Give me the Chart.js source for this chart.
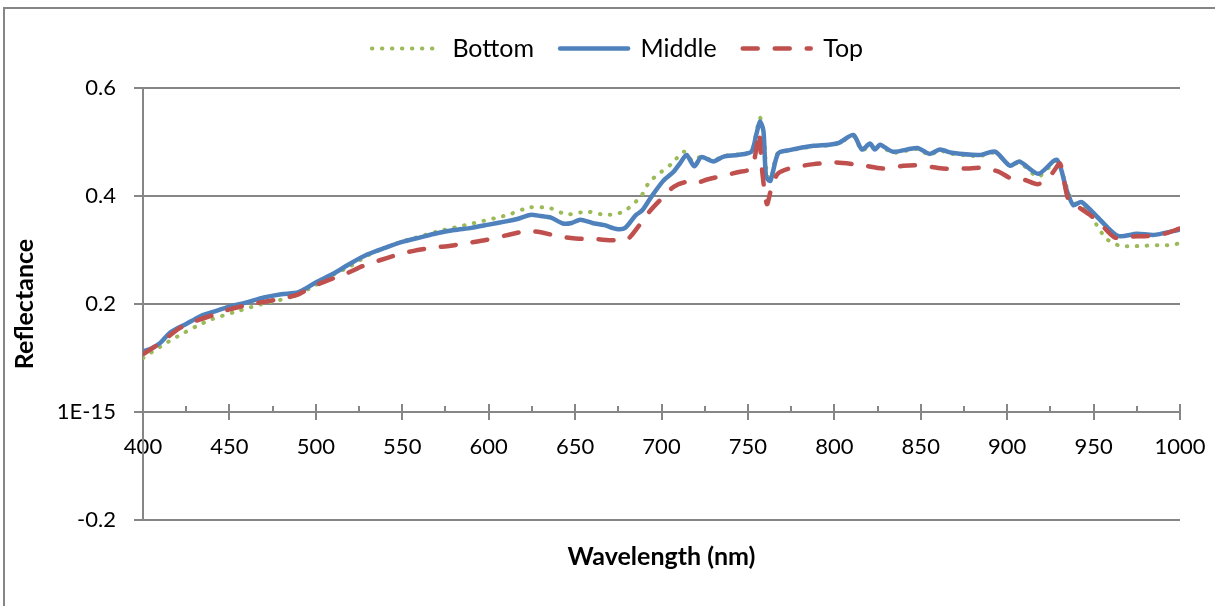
<!DOCTYPE html>
<html>
<head>
<meta charset="utf-8">
<script src="https://cdn.jsdelivr.net/npm/chart.js@4"></script>
<style>
  body { margin: 0; background: #fff; }
  #wrap { width: 1215px; height: 606px; position: relative; }
</style>
</head>
<body>
<div id="wrap"><canvas id="myChart"></canvas></div>
<script>
// valores
let bottomNm = [400, 410, 420, 431, 440, 454, 469, 480, 489, 500, 508, 520, 530, 540, 550, 560, 570, 578, 589, 597, 605, 612, 624, 636, 645, 657, 668, 678, 688, 693, 700, 706, 713, 718, 723, 730, 736, 744, 752, 755, 757, 759, 761, 763, 767, 774, 788, 797, 803, 811, 816, 821, 824, 826, 834, 848, 855, 861, 868, 884, 893, 902, 907, 918, 929, 934, 938, 946, 957, 965, 972, 980, 988, 995, 1000]
let bottomRefl = [0.100, 0.121, 0.140, 0.159, 0.172, 0.186, 0.200, 0.208, 0.217, 0.235, 0.251, 0.270, 0.290, 0.304, 0.316, 0.325, 0.334, 0.340, 0.348, 0.354, 0.360, 0.366, 0.379, 0.377, 0.366, 0.371, 0.365, 0.371, 0.399, 0.426, 0.445, 0.460, 0.482, 0.465, 0.473, 0.466, 0.474, 0.477, 0.483, 0.520, 0.545, 0.520, 0.440, 0.430, 0.478, 0.484, 0.492, 0.494, 0.498, 0.511, 0.484, 0.495, 0.484, 0.493, 0.480, 0.487, 0.476, 0.484, 0.478, 0.474, 0.480, 0.455, 0.462, 0.436, 0.466, 0.420, 0.390, 0.374, 0.322, 0.308, 0.307, 0.308, 0.309, 0.309, 0.313]

let middleNm = [400, 405, 410, 415, 420, 425, 430, 435, 440, 450, 460, 470, 480, 490, 500, 510, 520, 530, 540, 550, 560, 570, 580, 590, 600, 610, 616, 624, 630, 636, 643, 648, 653, 660, 667, 674, 679, 685, 689, 694, 701, 707, 711, 714.5, 719, 723, 730, 736, 744, 752, 755, 757, 759, 760.5, 763, 767.5, 774, 788, 797, 803, 811, 816, 820.6, 823.5, 826.4, 834, 848, 855, 861, 868, 884, 893, 901.6, 907, 918, 928.7, 934.4, 938.3, 943, 953.7, 964, 975, 985, 996, 1000]
let middleRefl = [0.112, 0.118, 0.128, 0.145, 0.155, 0.163, 0.172, 0.180, 0.185, 0.195, 0.203, 0.212, 0.218, 0.222, 0.240, 0.256, 0.275, 0.292, 0.304, 0.315, 0.323, 0.331, 0.337, 0.341, 0.347, 0.353, 0.357, 0.365, 0.363, 0.360, 0.349, 0.350, 0.356, 0.350, 0.346, 0.339, 0.341, 0.364, 0.374, 0.398, 0.428, 0.445, 0.462, 0.476, 0.455, 0.472, 0.464, 0.473, 0.476, 0.482, 0.516, 0.538, 0.520, 0.436, 0.428, 0.479, 0.485, 0.493, 0.495, 0.499, 0.513, 0.486, 0.497, 0.486, 0.495, 0.482, 0.489, 0.478, 0.486, 0.480, 0.476, 0.482, 0.456, 0.464, 0.441, 0.467, 0.411, 0.383, 0.389, 0.356, 0.326, 0.330, 0.328, 0.335, 0.338]

let topNm = [400, 410, 421, 430, 441, 450, 460, 470, 479, 490, 498, 508, 518, 527, 537, 547, 556, 567, 578, 588, 599, 610, 622, 630, 641, 652, 662, 672, 680, 687, 693, 700, 707, 714, 719, 727, 735, 744, 752, 755, 756.5, 758, 761, 764, 767.5, 775, 788, 801, 816, 828, 840, 849, 860, 867, 877, 886, 895, 902, 910, 918, 926, 930.6, 935.4, 941, 948, 955, 962.4, 972, 981.7, 991, 1000]
let topRefl = [0.107, 0.128, 0.155, 0.168, 0.180, 0.190, 0.198, 0.204, 0.209, 0.218, 0.232, 0.245, 0.257, 0.270, 0.281, 0.291, 0.298, 0.304, 0.308, 0.313, 0.319, 0.327, 0.335, 0.333, 0.325, 0.321, 0.320, 0.318, 0.319, 0.345, 0.371, 0.395, 0.417, 0.426, 0.423, 0.431, 0.437, 0.444, 0.451, 0.490, 0.519, 0.454, 0.385, 0.420, 0.442, 0.452, 0.459, 0.462, 0.457, 0.451, 0.456, 0.457, 0.452, 0.450, 0.451, 0.452, 0.445, 0.433, 0.430, 0.422, 0.442, 0.460, 0.393, 0.380, 0.365, 0.345, 0.323, 0.325, 0.326, 0.330, 0.340]

let seriesNames = ['Bottom', 'Middle', 'Top']
let yTickLabels = { '0.6': '0.6', '0.4': '0.4', '0.2': '0.2', '0': '1E-15', '-0.2': '-0.2' }

let corEixo = '#868686'
let fonte = 'Lato, "Open Sans", sans-serif'

function pares(xs, ys) {
  return xs.map((v, i) => ({ x: v, y: ys[i] }))
}

// marcas do eixo x (principais cruzando, secundarias para cima) e borda externa
const marcasEixo = {
  id: 'marcasEixo',
  afterDraw(chart) {
    let ctx = chart.ctx
    let sx = chart.scales.x
    let sy = chart.scales.y
    let y0 = sy.getPixelForValue(0)
    ctx.save()
    ctx.strokeStyle = corEixo
    ctx.lineWidth = 2
    for (let v = 400; v <= 1000; v += 25) {
      let px = Math.round(sx.getPixelForValue(v))
      ctx.beginPath()
      if (v % 50 == 0) {
        ctx.moveTo(px, y0 - 8)
        ctx.lineTo(px, y0 + 8)
      } else {
        ctx.moveTo(px, y0 - 6)
        ctx.lineTo(px, y0)
      }
      ctx.stroke()
    }
    ctx.strokeRect(4, 8, 1400, 800)
    ctx.restore()
  }
}

var ctx = document.getElementById('myChart').getContext('2d')

var myChart = new Chart(ctx, {
  type: 'line',
  data: {
    datasets: [{
      label: seriesNames[0],
      data: pares(bottomNm, bottomRefl),
      borderColor: '#9BBB59',
      backgroundColor: '#9BBB59',
      borderWidth: 4,
      borderDash: [0.5, 9.5],
      borderCapStyle: 'round',
      order: 2
    }, {
      label: seriesNames[1],
      data: pares(middleNm, middleRefl),
      borderColor: '#4F81BD',
      backgroundColor: '#4F81BD',
      borderWidth: 4.5,
      borderCapStyle: 'round',
      order: 1
    }, {
      label: seriesNames[2],
      data: pares(topNm, topRefl),
      borderColor: '#C0504D',
      backgroundColor: '#C0504D',
      borderWidth: 4.5,
      borderDash: [15, 17],
      borderCapStyle: 'round',
      order: 0
    }]
  },
  options: {
    responsive: true,
    maintainAspectRatio: false,
    animation: false,
    elements: {
      point: { radius: 0, hoverRadius: 0 },
      line: { tension: 0.25, fill: false }
    },
    layout: {
      padding: { top: 10, right: 35, left: 55, bottom: 0 }
    },
    scales: {
      x: {
        type: 'linear',
        position: { y: 0 },
        min: 400,
        max: 1000,
        afterFit: (s) => { s.paddingLeft = 0; s.paddingRight = 0 },
        grid: { display: false },
        border: { display: true, color: corEixo, width: 2 },
        ticks: {
          stepSize: 50,
          padding: 14,
          color: '#000',
          font: { family: fonte, size: 22 },
          maxRotation: 0,
          autoSkip: false,
          callback: (v) => String(v)
        }
      },
      y: {
        min: -0.2,
        max: 0.6,
        afterFit: (s) => { s.width = 88 },
        grid: {
          color: corEixo,
          lineWidth: 2,
          tickLength: 9,
          tickColor: corEixo
        },
        border: { display: true, color: corEixo, width: 2 },
        ticks: {
          stepSize: 0.2,
          padding: 18,
          color: '#000',
          font: { family: fonte, size: 22 },
          callback: (v) => yTickLabels[String(Math.round(v * 10) / 10)]
        },
        title: {
          display: true,
          text: 'Reflectance',
          color: '#000',
          font: { family: fonte, size: 25, weight: 'bold' },
          padding: { top: -45, bottom: 0 }
        }
      }
    },
    plugins: {
      tooltip: { enabled: false },
      legend: {
        position: 'top',
        weight: 3000,
        labels: {
          usePointStyle: true,
          pointStyle: 'line',
          pointStyleWidth: 68,
          padding: 26,
          color: '#000',
          font: { family: fonte, size: 25 },
          sort: (a, b) => a.datasetIndex - b.datasetIndex,
          generateLabels: (chart) => {
            let itens = Chart.defaults.plugins.legend.labels.generateLabels(chart)
            return itens.map((item) => {
              let ds = chart.data.datasets[item.datasetIndex]
              item.lineDash = ds.borderDash || []
              item.lineWidth = ds.borderWidth
              item.strokeStyle = ds.borderColor
              item.lineCap = 'round'
              return item
            })
          }
        }
      },
      subtitle: {
        display: true,
        text: '',
        font: { size: 1, lineHeight: 1 },
        padding: { top: 0, bottom: 16 }
      },
      title: {
        display: true,
        position: 'bottom',
        fullSize: false,
        text: 'Wavelength (nm)',
        color: '#000',
        font: { family: fonte, size: 25, weight: 'bold' },
        padding: { top: 22, bottom: 34 }
      }
    }
  },
  plugins: [marcasEixo]
})
</script>
</body>
</html>
